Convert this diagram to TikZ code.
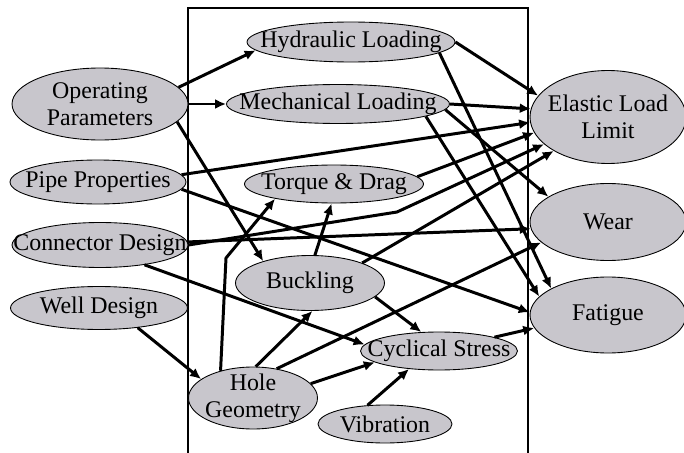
\documentclass[tikz,border=0pt]{standalone}
\usepackage{fontspec}
\setmainfont{Liberation Serif}
\usetikzlibrary{shapes.geometric, arrows.meta}
\definecolor{bubgray}{RGB}{200,198,204}

\begin{document}
\begin{tikzpicture}[
    x=0.02cm, y=-0.02cm,
    >={Latex[width=2mm,length=2.2mm]},
    bub/.style={ellipse, draw=black, line width=0.5pt, fill=bubgray, inner sep=0pt},
    txt/.style={align=center, inner sep=0pt, font=\fontsize{13.6}{15.4}\selectfont},
    line/.style={draw, ->, line width=1.7pt},
    frame/.style={draw, line width=0.6pt}
]
    \useasboundingbox (0,0) rectangle (684,453);

    % system boundary
    \draw[frame] (188,453) -- (188,8) -- (528,8) -- (528,453);

    % inputs
    \node (op) [bub, minimum width=3.52cm, minimum height=1.44cm, label={[txt]center:Operating\\Parameters}] at (100,104) {};
    \node (pipe) [bub, minimum width=3.52cm, minimum height=0.88cm, label={[txt]center:Pipe Properties}] at (98,182) {};
    \node (conn) [bub, minimum width=3.52cm, minimum height=0.9cm, label={[txt]center:Connector Design}] at (100,245) {};
    \node (well) [bub, minimum width=3.54cm, minimum height=0.86cm, label={[txt]center:Well Design}] at (99,308) {};

    % inside the box
    \node (hyd) [bub, minimum width=4.16cm, minimum height=0.8cm, label={[txt]center:Hydraulic Loading}] at (351,42) {};
    \node (mech) [bub, minimum width=4.46cm, minimum height=0.78cm, label={[txt]center:Mechanical Loading}] at (338,104) {};
    \node (tor) [bub, minimum width=3.58cm, minimum height=0.76cm, label={[txt]center:Torque \& Drag}] at (334,184) {};
    \node (buck) [bub, minimum width=2.98cm, minimum height=1.1cm, label={[txt]center:Buckling}] at (310,283) {};
    \node (hole) [bub, minimum width=2.58cm, minimum height=1.24cm, label={[txt]center:Hole\\Geometry}] at (253,398) {};
    \node (cyc) [bub, minimum width=3.14cm, minimum height=0.76cm, label={[txt]center:Cyclical Stress}] at (439,351) {};
    \node (vib) [bub, minimum width=2.68cm, minimum height=0.76cm, label={[txt]center:Vibration}] at (385,424) {};

    % outputs
    \node (ela) [bub, minimum width=3.12cm, minimum height=1.86cm, label={[txt]center:Elastic Load\\Limit}] at (608,117) {};
    \node (wear) [bub, minimum width=3.12cm, minimum height=1.54cm, label={[txt]center:Wear}] at (608,222) {};
    \node (fat) [bub, minimum width=3.12cm, minimum height=1.52cm, label={[txt]center:Fatigue}] at (608,315) {};

    \coordinate (cbend) at (397,212);
    \coordinate (hbend) at (226,258);

    \draw[line] (op.12) -- (hyd.185);
    \draw[line] (op.east) -- (mech.west);
    \draw[line] (op.-13) -- (buck.155);
    \draw[line] (well.-27) -- (hole.160);
    \draw[line] (conn.-24) -- (cyc.175);

    \draw[line] (hole.140) -- (hbend) -- (tor.194);
    \draw[line] (hole.85) -- (buck.-85);
    \draw[line] (hole.14) -- (cyc.190);
    \draw[line] (hole.51) -- (wear.197);
    \draw[line] (buck.80) -- (tor.-97);
    \draw[line] (buck.-12) -- (cyc.133);
    \draw[line] (buck.21) -- (ela.212);
    \draw[line] (vib.133) -- (cyc.211);

    \draw[line] (hyd.east) -- (ela.163);
    \draw[line] (hyd.-7) -- (fat.155);
    \draw[line] (mech.east) -- (ela.174);
    \draw[line] (mech.-3) -- (wear.157);
    \draw[line] (mech.-8) -- (fat.165);
    \draw[line] (pipe.5) -- (ela.184);
    \draw[line] (pipe.-5) -- (fat.178);
    \draw[line] (tor.5) -- (ela.192);
    \draw[line] (conn.east) -- (cbend) -- (ela.203);
    \draw[line] (conn.2) -- (wear.185);
    \draw[line] (cyc.14) -- (fat.190);

\end{tikzpicture}
\end{document}
